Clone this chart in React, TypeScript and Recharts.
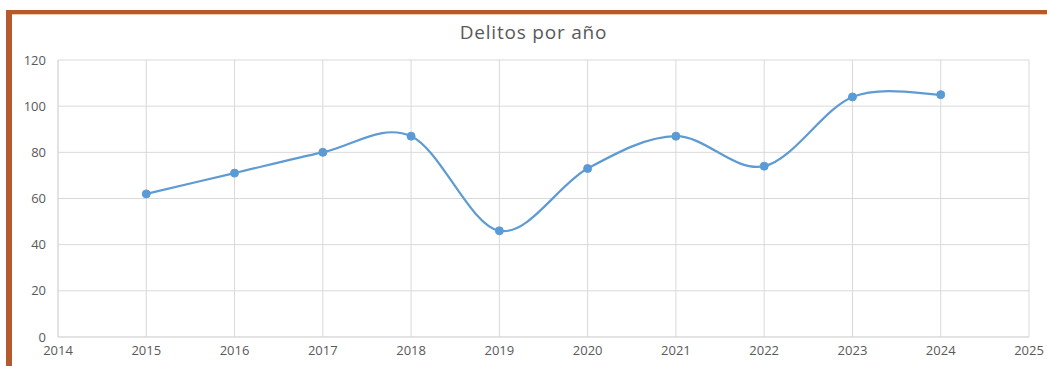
import { LineChart, Line, XAxis, YAxis, CartesianGrid } from "recharts"

const years = [2015, 2016, 2017, 2018, 2019, 2020, 2021, 2022, 2023, 2024];
const delitos = [62, 71, 80, 87, 46, 73, 87, 74, 104, 105];
const xTicks = [2014, 2015, 2016, 2017, 2018, 2019, 2020, 2021, 2022, 2023, 2024, 2025];
const yTicks = [0, 20, 40, 60, 80, 100, 120];

const data = years.map((year, i) => ({ year, delitos: delitos[i] }));

// Excel-style smoothed line (Catmull-Rom through the points)
function excelSmooth(context: any) {
    let pts: number[][] = [];
    return {
        areaStart() {},
        areaEnd() {},
        lineStart() { pts = []; },
        lineEnd() {
            const n = pts.length;
            if (!n) return;
            context.moveTo(pts[0][0], pts[0][1]);
            for (let i = 0; i < n - 1; i++) {
                const p0 = pts[Math.max(i - 1, 0)];
                const p1 = pts[i];
                const p2 = pts[i + 1];
                const p3 = pts[Math.min(i + 2, n - 1)];
                context.bezierCurveTo(
                    p1[0] + (p2[0] - p0[0]) / 6, p1[1] + (p2[1] - p0[1]) / 6,
                    p2[0] - (p3[0] - p1[0]) / 6, p2[1] - (p3[1] - p1[1]) / 6,
                    p2[0], p2[1]
                );
            }
        },
        point(x: number, y: number) { pts.push([+x, +y]); },
    };
}

const brown = "#b65a2d";
const tickStyle = { fill: "#595959", fontSize: 13, fontFamily: "Open Sans" };

export default function App() {
    return (
        <div style={{ position: "absolute", left: 0, top: 0, width: 1047, height: 366, background: "#fff", overflow: "hidden" }}>
            <div style={{ position: "absolute", left: 6, top: 10, width: 1041, height: 4, background: brown, borderBottom: "1px solid #f0c9a8" }} />
            <div style={{ position: "absolute", left: 6, top: 10, width: 6, height: 356, background: brown }} />
            <div style={{ position: "absolute", left: 0, top: 19, width: 1047, textAlign: "center", paddingLeft: 20, boxSizing: "border-box", fontFamily: "Open Sans", fontSize: 19, letterSpacing: 0.8, color: "#595959" }}>
                Delitos por año
            </div>
            <div style={{ position: "absolute", left: 0, top: 0 }}>
                <LineChart width={1047} height={366} data={data} margin={{ top: 60, right: 18, left: 0, bottom: 9 }}>
                    <CartesianGrid stroke="#d9d9d9" strokeWidth={1} />
                    <XAxis
                        dataKey="year"
                        type="number"
                        domain={[2014, 2025]}
                        ticks={xTicks}
                        interval={0}
                        tickLine={false}
                        axisLine={{ stroke: "#d9d9d9" }}
                        tick={tickStyle}
                        tickMargin={3}
                        height={20}
                    />
                    <YAxis
                        type="number"
                        domain={[0, 120]}
                        ticks={yTicks}
                        interval={0}
                        tickLine={false}
                        axisLine={{ stroke: "#d9d9d9" }}
                        tick={tickStyle}
                        tickMargin={6}
                        width={58}
                    />
                    <Line
                        type={excelSmooth as any}
                        dataKey="delitos"
                        stroke="#5f9bd3"
                        strokeWidth={2.2}
                        dot={{ r: 4, fill: "#5b9bd5", stroke: "#5b9bd5", strokeWidth: 1 }}
                        isAnimationActive={false}
                    />
                </LineChart>
            </div>
        </div>
    )
}
